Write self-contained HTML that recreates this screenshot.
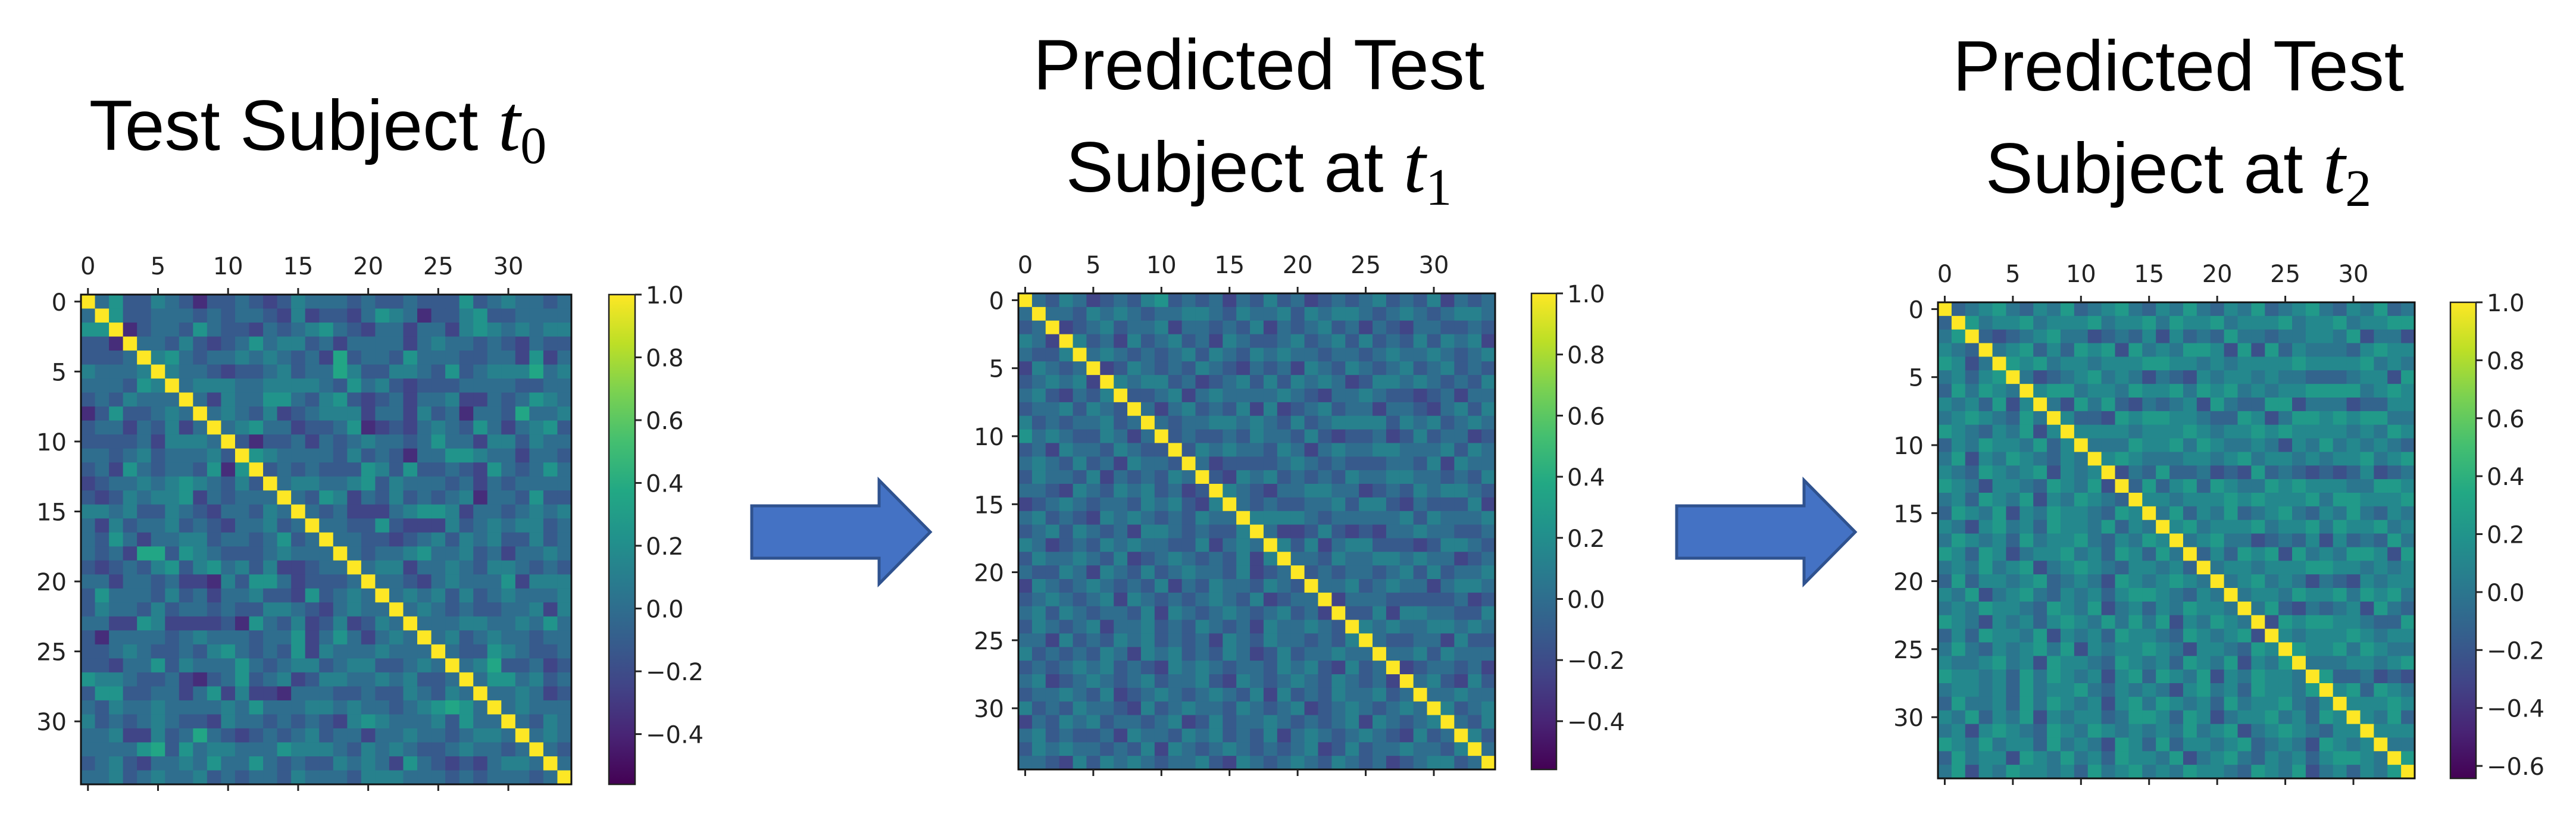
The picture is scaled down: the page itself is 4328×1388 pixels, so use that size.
<!DOCTYPE html>
<html><head><meta charset="utf-8"><style>
html,body{margin:0;padding:0;background:#fff;}
svg{display:block;}
</style></head><body>
<svg id="fig" xmlns="http://www.w3.org/2000/svg" width="4328" height="1388" viewBox="0 0 4328 1388">
<defs>
<linearGradient id="vir" x1="0" y1="1" x2="0" y2="0">
<stop offset="0" stop-color="#440154"/><stop offset="0.1" stop-color="#482475"/><stop offset="0.2" stop-color="#414487"/><stop offset="0.3" stop-color="#355f8d"/><stop offset="0.4" stop-color="#2a788e"/><stop offset="0.5" stop-color="#21918c"/><stop offset="0.6" stop-color="#22a884"/><stop offset="0.7" stop-color="#44bf70"/><stop offset="0.8" stop-color="#7ad151"/><stop offset="0.9" stop-color="#bddf26"/><stop offset="1" stop-color="#fde725"/>
</linearGradient>
</defs>
<g font-family="'Liberation Sans', Arial, sans-serif" font-size="120" fill="#000" text-anchor="middle">
<text x="534" y="252">Test Subject <tspan font-family="'Liberation Serif', serif" font-style="italic" font-size="135">t</tspan><tspan font-family="'Liberation Serif', serif" font-size="88" dy="22">0</tspan></text>
<text x="2115" y="150">Predicted Test</text>
<text x="2115" y="322">Subject at <tspan font-family="'Liberation Serif', serif" font-style="italic" font-size="135">t</tspan><tspan font-family="'Liberation Serif', serif" font-size="88" dy="22">1</tspan></text>
<text x="3660" y="152">Predicted Test</text>
<text x="3660" y="324">Subject at <tspan font-family="'Liberation Serif', serif" font-style="italic" font-size="135">t</tspan><tspan font-family="'Liberation Serif', serif" font-size="88" dy="22">2</tspan></text>
</g>
<path d="M1263,850 L1477,850 L1477,807 L1563,894 L1477,981 L1477,938 L1263,938 Z" fill="#4472C4" stroke="#2F528F" stroke-width="5"/>
<path d="M2817,850 L3031,850 L3031,807 L3117,894 L3031,981 L3031,938 L2817,938 Z" fill="#4472C4" stroke="#2F528F" stroke-width="5"/>
<g id="plots"></g>
</svg>
<script>
// lower-triangle rows (row r uses its first r digits; spaces ignored), digit d -> value -0.6 + 0.12*d ; diagonal = 1.0
const matrixT0 = ["5","77","442","4445","65556","555476","4546555","24744565","455354635","4444536665","55456455564","453754554727","3455656765464","4346566735455","66564465435546","536455645435564","5475355664554574","54538847654445655","434546746756463345","5535545332647753444","47555464535564437456","465546455454466543565","5533763333427546346346","42555545655545573575356","445654454675454736555655","4435574655575456645664456","76654453245745634665565644","477445535736332555445446546","5465565555657555665655456787","64545654436554545436765556475","556336458543454564553556554566","5555784756655576665465654456554","45643556575575454465653754343566","556456556454554655546665554545554","5455475566562255755455656645566554"];
const matrixT1 = [
"56454 65345 54665 45356 54465 35546 45654","45565 36454 65547 54465 35664 54546 65345","65346 45556 43654 66545 45365 56434 56465","54465 56345 65564 35456 64545 46556 34564",
"36545 64556 45364 56547 54635 54465 56436","45656 34565 56454 63545 56456 65345 45657","56435 46565 34556 45665 43546 56544 63545","45564 65436 55465 46356 54465 34565 46556",
"64545 56456 36545 65454 66345 45656 54436","75654 46535 65464 54563 45646 55436 46554","45365 54654 45637 46545 56464 35465 56545","56546 45365 54654 45546 36545 64556 45364",
"46554 63545 46566 53454 65456 34565 54646","55436 54656 45345 66454 45365 56545 46553","34565 45546 56436 54565 45654 63546 55465","56454 36565 45465 54636 45456 55465 34656",
"45646 54536 65454 46565 35446 56545 65436","65345 46565 54463 56545 64656 34554 46565","46556 54634 56545 46365 54546 65445 36545","54465 36546 45655 46345 65465 54636 45456",
"36545 65454 63546 55465 45456 36545 65545","45654 56365 45456 54634 55465 46545 63546","56465 45546 36545 65456 45365 54654 45465","46545 63556 45465 45365 56545 46365 54654",
"55364 54656 45453 65465 54546 36545 65456","64545 46536 56454 65346 45565 54463 56545","45456 56454 36565 45546 56436 45565 46354","56345 65456 45564 36545 65465 45365 54646",
"45565 46345 65456 54636 45465 56454 36565","64546 55436 45655 46545 63456 54565 45346","35465 64554 56346 45565 45456 36545 65465","56454 45365 54656 45463 56545 65436 45565",
"46565 54546 36545 65454 56346 45565 54636","55436 46565 45564 36545 65465 45345 66454"];
const matrixT2 = [
"46576 56475 65367 56476 65746 57365 76556","57665 47567 36576 65475 76356 65467 56375","65476 56376 57656 47566 75465 76536 65746","76356 65476 56746 57365 66457 56765 47657",
"56467 75656 47365 76576 56476 35667 56476","47576 56367 65476 57656 46575 67356 76546","65647 36575 66475 65376 57466 56745 65376","56765 47566 37657 56476 65735 67546 56467",
"76546 57365 76656 47567 36576 65476 57356","46576 65746 35667 56475 76536 56467 65757","57365 76546 57656 37567 56476 65736 56476","65476 56736 56476 57365 76546 56757 36566",
"76536 65476 57365 76656 47567 56376 65476","56476 57365 76546 56765 37656 47576 56367","47657 36576 65476 56376 57656 47566 75465","65367 56476 65746 57365 76556 47576 56367",
"57656 47566 75465 76536 65746 57365 66457","76476 35667 56476 47576 56367 65476 57656","56575 67356 76546 65647 36575 66475 65376","47466 56745 65376 56765 47566 37657 56476",
"65735 67546 56467 76546 57365 76656 47567","56576 65476 57356 46576 65746 35667 56475","76536 56467 65757 57365 76546 57656 37567","46476 65736 56476 65476 56736 56476 57365",
"57546 56757 36566 76536 65476 57365 76656","65567 56376 65476 56476 57365 76546 56765","76656 47576 56367 47657 36576 65476 56376","56656 47566 75465 65367 56476 65746 57365",
"47556 47576 56367 57656 47566 75465 76536","65746 57365 66457 76476 35667 56476 47576","56367 65476 57656 56575 67356 76546 65647","76575 66475 65376 47466 56745 65376 56765",
"47566 37657 56476 65735 67546 56467 76546","57365 76656 47567 56576 65476 57356 46576"];
</script>
<script>
const svgNS = "http://www.w3.org/2000/svg";
const stops = [[0x44,0x01,0x54],[0x48,0x24,0x75],[0x41,0x44,0x87],[0x35,0x5f,0x8d],[0x2a,0x78,0x8e],[0x21,0x91,0x8c],[0x22,0xa8,0x84],[0x44,0xbf,0x70],[0x7a,0xd1,0x51],[0xbd,0xdf,0x26],[0xfd,0xe7,0x25]];
function viridis(t){
  t = Math.max(0, Math.min(1, t));
  const p = t*10, i = Math.min(9, Math.floor(p)), f = p - i;
  const a = stops[i], b = stops[i+1];
  return "rgb(" + [0,1,2].map(k => Math.round(a[k] + (b[k]-a[k])*f)).join(",") + ")";
}
function valueAt(rows, i, j){
  if (i === j) return 1.0;
  const r = Math.max(i, j), c = Math.min(i, j);
  const s = (rows[r-1] || "").replace(/ /g, "");
  const ch = s.charAt(c);
  const d = ch === "" ? 5 : parseInt(ch, 10);
  return -0.6 + 0.12*d;
}
function mk(tag, attrs, parent){
  const el = document.createElementNS(svgNS, tag);
  for (const k in attrs) el.setAttribute(k, attrs[k]);
  parent.appendChild(el);
  return el;
}
const N = 35;
const axisTicks = [0,5,10,15,20,25,30];
const cbTicks12 = ["1.0","0.8","0.6","0.4","0.2","0.0","\u22120.2","\u22120.4"];
const cbTicks3 = ["1.0","0.8","0.6","0.4","0.2","0.0","\u22120.2","\u22120.4","\u22120.6"];
const panels = [
  {rows: matrixT0, x: 136, y: 495, w: 824, h: 823, cbx: 1023, cbw: 44, vmin: -0.56, ticks: cbTicks12, id: "t0"},
  {rows: matrixT1, x: 1711, y: 493, w: 801, h: 800, cbx: 2573, cbw: 42, vmin: -0.558, ticks: cbTicks12, id: "t1"},
  {rows: matrixT2, x: 3256, y: 508, w: 801, h: 800, cbx: 4117, cbw: 43, vmin: -0.643, ticks: cbTicks3, id: "t2"}
];
const root = document.getElementById("plots");
panels.forEach(p => {
  const g = mk("g", {}, root);
  
  
  const cw = p.w / N, ch = p.h / N;
  const xs = j => p.x + j*cw, ys = i => p.y + i*ch;
  const norm = v => (v - p.vmin) / (1 - p.vmin);
  for (let i = 0; i < N; i++) for (let j = 0; j < N; j++) {
    const r = mk("rect", {x: xs(j).toFixed(2), y: ys(i).toFixed(2), width: (cw+0.6).toFixed(2), height: (ch+0.6).toFixed(2), fill: viridis(norm(valueAt(p.rows, i, j)))}, g);
    
    
  }
  const fr = mk("rect", {x: p.x, y: p.y, width: p.w, height: p.h, fill: "none", stroke: "#111", "stroke-width": 3}, g);
  
  
  axisTicks.forEach(t => {
    const cx = xs(t) + cw/2, cy = ys(t) + ch/2;
    const t1 = mk("line", {x1: cx, y1: p.y - 11, x2: cx, y2: p.y, stroke: "#222", "stroke-width": 3}, g);
    
    
    const t2 = mk("line", {x1: cx, y1: p.y + p.h, x2: cx, y2: p.y + p.h + 11, stroke: "#222", "stroke-width": 3}, g);
    
    
    const t3 = mk("line", {x1: p.x - 11, y1: cy, x2: p.x, y2: cy, stroke: "#222", "stroke-width": 3}, g);
    
    
    const lx = mk("text", {x: cx, y: p.y - 34, "font-family": "'DejaVu Sans', sans-serif", "font-size": 40, "text-anchor": "middle", fill: "#222"}, g);
    lx.textContent = String(t);
    
    
    const ly = mk("text", {x: p.x - 24, y: cy + 15, "font-family": "'DejaVu Sans', sans-serif", "font-size": 40, "text-anchor": "end", fill: "#222"}, g);
    ly.textContent = String(t);
    
    
  });
  const cb = mk("rect", {x: p.cbx, y: p.y, width: p.cbw, height: p.h, fill: "url(#vir)", stroke: "#222", "stroke-width": 2.5}, g);
  
  
  p.ticks.forEach(lbl => {
    const v = parseFloat(lbl.replace("\u2212", "-"));
    const ty = p.y + (1 - v) / (1 - p.vmin) * p.h;
    const tk = mk("line", {x1: p.cbx + p.cbw, y1: ty, x2: p.cbx + p.cbw + 11, y2: ty, stroke: "#222", "stroke-width": 3}, g);
    
    
    const tl = mk("text", {x: p.cbx + p.cbw + 18, y: ty + 15, "font-family": "'DejaVu Sans', sans-serif", "font-size": 40, fill: "#222"}, g);
    tl.textContent = lbl;
    
    
  });
});
</script>
</body></html>
